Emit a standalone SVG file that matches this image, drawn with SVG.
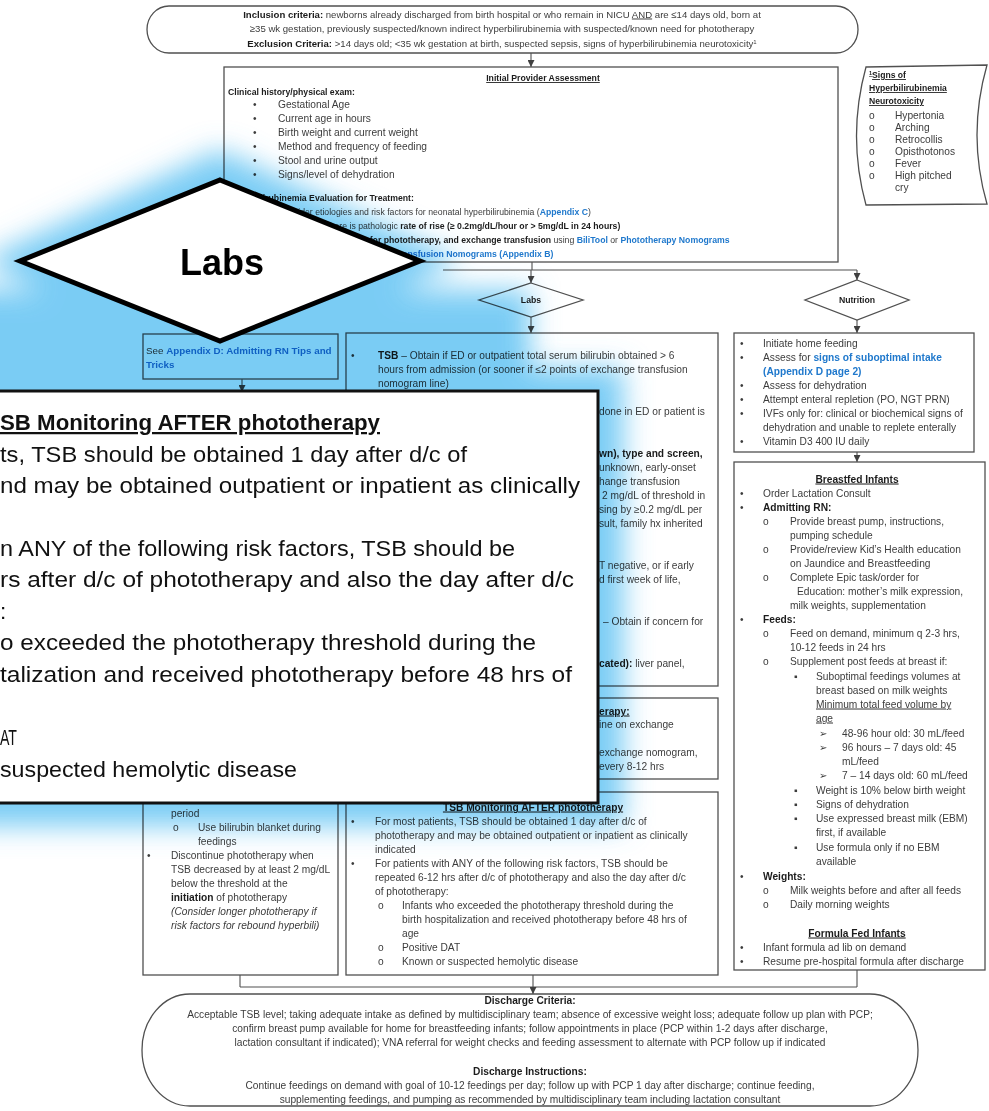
<svg xmlns="http://www.w3.org/2000/svg" width="989" height="1111" viewBox="0 0 989 1111">
<defs>
<style>
text{font-family:"Liberation Sans",Arial,sans-serif;font-size:10.2px;fill:#3c3c3c}
.s9{font-size:8.7px}
.s96{font-size:9.6px}
.s8{font-size:8.6px}
.r{font-size:10.4px}
.ad{font-size:9.8px}
.b{font-weight:bold;fill:#1c1c1c}
.lk{font-weight:bold;fill:#1f78cc}
.u{text-decoration:underline}
.i{font-style:italic}
.m{text-anchor:middle}
.box{fill:none;stroke:#505050;stroke-width:1.3}
.ln{fill:none;stroke:#505050;stroke-width:1.1}
.pop{font-size:22.5px;fill:#111}
.big{font-size:36px;font-weight:bold;fill:#000;text-anchor:middle}
</style>
<marker id="ah" viewBox="0 0 8 8" refX="8" refY="4" markerWidth="7" markerHeight="7" markerUnits="userSpaceOnUse" orient="auto"><path d="M0,0 L8,4 L0,8 z" fill="#404040"/></marker>
<filter id="blur" x="-20%" y="-20%" width="140%" height="140%"><feGaussianBlur stdDeviation="14"/></filter>
</defs>
<rect width="989" height="1111" fill="#fff"/>

<g id="connectors" class="ln">
<line x1="531" y1="53" x2="531" y2="67" marker-end="url(#ah)"/>
<line x1="532" y1="262" x2="532" y2="270"/>
<line x1="443" y1="270" x2="857" y2="270"/>
<line x1="531" y1="270" x2="531" y2="283" marker-end="url(#ah)"/>
<line x1="857" y1="270" x2="857" y2="280" marker-end="url(#ah)"/>
<line x1="531" y1="317" x2="531" y2="333" marker-end="url(#ah)"/>
<line x1="857" y1="320" x2="857" y2="333" marker-end="url(#ah)"/>
<line x1="857" y1="452" x2="857" y2="462" marker-end="url(#ah)"/>
<line x1="242" y1="379" x2="242" y2="392" marker-end="url(#ah)"/>
<line x1="240" y1="975" x2="240" y2="987"/>
<line x1="857" y1="970" x2="857" y2="987"/>
<line x1="240" y1="987" x2="857" y2="987"/>
<line x1="533" y1="975" x2="533" y2="994" marker-end="url(#ah)"/>
</g>

<g id="inclusion">
<path class="box" d="M169,6 H836 A22,23.5 0 0 1 836,53 H169 A22,23.5 0 0 1 169,6 Z"/>
<text class="s96 m" x="502" y="17.5"><tspan class="b">Inclusion criteria:</tspan> newborns already discharged from birth hospital or who remain in NICU <tspan class="u">AND</tspan> are ≤14 days old, born at</text>
<text class="s96 m" x="502" y="32">≥35 wk gestation, previously suspected/known indirect hyperbilirubinemia with suspected/known need for phototherapy</text>
<text class="s96 m" x="502" y="46.5"><tspan class="b">Exclusion Criteria:</tspan> &gt;14 days old; &lt;35 wk gestation at birth, suspected sepsis, signs of hyperbilirubinemia neurotoxicity<tspan font-size="6" dy="-3">1</tspan></text>
</g>

<g id="initial">
<rect class="box" x="224" y="67" width="614" height="195"/>
<text class="s9 b u m" x="543" y="81">Initial Provider Assessment</text>
<text class="s9 b" x="228" y="95">Clinical history/physical exam:</text>
<g class="s9">
<text x="253" y="108">•</text><text x="278" y="108">Gestational Age</text>
<text x="253" y="122">•</text><text x="278" y="122">Current age in hours</text>
<text x="253" y="136">•</text><text x="278" y="136">Birth weight and current weight</text>
<text x="253" y="150">•</text><text x="278" y="150">Method and frequency of feeding</text>
<text x="253" y="164">•</text><text x="278" y="164">Stool and urine output</text>
<text x="253" y="178">•</text><text x="278" y="178">Signs/level of dehydration</text>
</g>
<text class="s9 b" x="228" y="201">Hyperbilirubinemia Evaluation for Treatment:</text>
<text class="s9" x="278" y="215">Consider etiologies and risk factors for neonatal hyperbilirubinemia (<tspan class="lk">Appendix C</tspan>)</text>
<text class="s9" x="278" y="229">Determine if there is pathologic <tspan class="b">rate of rise (≥  0.2mg/dL/hour or &gt; 5mg/dL in 24 hours)</tspan></text>
<text class="s9" x="278" y="243"><tspan class="b">Determine thresholds for phototherapy, and exchange transfusion</tspan> using <tspan class="lk">BiliTool</tspan> or <tspan class="lk">Phototherapy Nomograms</tspan></text>
<text class="s9" x="278" y="257"><tspan class="lk">(Appendix A)</tspan> and <tspan class="lk">Exchange Transfusion Nomograms (Appendix B)</tspan></text>
</g>

<g id="signs">
<path class="box" d="M866,67 L987,65 Q967,135 987,204 L866,205 Q847,136 866,67 Z"/>
<text class="s8 b u" x="869" y="78"><tspan font-size="5.5" dy="-3">1</tspan><tspan dy="3">Signs of</tspan></text>
<text class="s8 b u" x="869" y="91">Hyperbilirubinemia</text>
<text class="s8 b u" x="869" y="104">Neurotoxicity</text>
<g class="s8">
<text x="869" y="119">o</text><text x="895" y="119">Hypertonia</text>
<text x="869" y="131">o</text><text x="895" y="131">Arching</text>
<text x="869" y="143">o</text><text x="895" y="143">Retrocollis</text>
<text x="869" y="155">o</text><text x="895" y="155">Opisthotonos</text>
<text x="869" y="167">o</text><text x="895" y="167">Fever</text>
<text x="869" y="179">o</text><text x="895" y="179">High pitched</text>
<text x="895" y="191">cry</text>
</g>
</g>

<g id="labs-decision">
<polygon class="box" points="531,283 583,300 531,317 479,300"/>
<text class="s9 b m" x="531" y="303">Labs</text>
</g>

<g id="nutrition-decision">
<polygon class="box" points="857,280 909,300 857,320 805,300"/>
<text class="s9 b m" x="857" y="303">Nutrition</text>
</g>

<g id="appendix-d">
<rect class="box" x="143" y="334" width="195" height="45"/>
<text class="ad" x="146" y="353.5">See <tspan class="lk">Appendix D: Admitting RN Tips and</tspan></text>
<text class="ad lk" x="146" y="367.5">Tricks</text>
</g>

<g id="labs-box">
<rect class="box" x="346" y="333" width="372" height="353"/>
<text x="351" y="358.5">•</text>
<text x="378" y="358.5"><tspan class="b">TSB</tspan> – Obtain if ED or outpatient total serum bilirubin obtained &gt; 6</text>
<text x="378" y="372.5">hours from admission (or sooner if ≤2 points of exchange transfusion</text>
<text x="378" y="386.5">nomogram line)</text>
<text x="599" y="414.5">done in ED or patient is</text>
<text x="599" y="456.5" class="b">wn), type and screen,</text>
<text x="599" y="470.5">unknown, early-onset</text>
<text x="599" y="484.5">hange transfusion</text>
<text x="602" y="498.5">2 mg/dL of threshold in</text>
<text x="599" y="512.5">sing by ≥0.2 mg/dL per</text>
<text x="599" y="526.5">sult, family hx inherited</text>
<text x="599" y="568.5">T negative, or if early</text>
<text x="599" y="582.5">d first week of life,</text>
<text x="603" y="624.5">– Obtain if concern for</text>
<text x="599" y="666.5"><tspan class="b">cated):</tspan> liver panel,</text>
</g>

<g id="photo-box">
<rect class="box" x="346" y="698" width="372" height="81"/>
<text x="599" y="714.5" class="b u">erapy:</text>
<text x="599" y="727.5">ine on exchange</text>
<text x="599" y="755.5">exchange nomogram,</text>
<text x="599" y="769.5">every 8-12 hrs</text>
</g>

<g id="tsb-after-box">
<rect class="box" x="346" y="792" width="372" height="183"/>
<text class="b u m" x="533" y="810.5">TSB Monitoring AFTER phototherapy</text>
<text x="351" y="824.5">•</text><text x="375" y="824.5">For most patients, TSB should be obtained 1 day after d/c of</text>
<text x="375" y="838.5">phototherapy and may be obtained outpatient or inpatient as clinically</text>
<text x="375" y="852.5">indicated</text>
<text x="351" y="866.5">•</text><text x="375" y="866.5">For patients with ANY of the following risk factors, TSB should be</text>
<text x="375" y="880.5">repeated 6-12 hrs after d/c of phototherapy and also the day after d/c</text>
<text x="375" y="894.5">of phototherapy:</text>
<text x="378" y="908.5">o</text><text x="402" y="908.5">Infants who exceeded the phototherapy threshold during the</text>
<text x="402" y="922.5">birth hospitalization and received phototherapy before 48 hrs of</text>
<text x="402" y="936.5">age</text>
<text x="378" y="950.5">o</text><text x="402" y="950.5">Positive DAT</text>
<text x="378" y="964.5">o</text><text x="402" y="964.5">Known or suspected hemolytic disease</text>
</g>

<g id="phototherapy-left">
<rect class="box" x="143" y="392" width="195" height="583"/>
<text x="171" y="816.5">period</text>
<text x="173" y="830.5">o</text><text x="198" y="830.5">Use bilirubin blanket during</text>
<text x="198" y="844.5">feedings</text>
<text x="147" y="858.5">•</text><text x="171" y="858.5">Discontinue phototherapy when</text>
<text x="171" y="872.5">TSB decreased by at least 2 mg/dL</text>
<text x="171" y="886.5">below the threshold at the</text>
<text x="171" y="900.5"><tspan class="b">initiation</tspan> of phototherapy</text>
<text x="171" y="914.5" class="i">(Consider longer phototherapy if</text>
<text x="171" y="928.5" class="i">risk factors for rebound hyperbili)</text>
</g>

<g id="nutrition-box">
<rect class="box" x="734" y="333" width="240" height="119"/>
<g class="r">
<text x="740" y="346.5">•</text><text x="763" y="346.5">Initiate home feeding</text>
<text x="740" y="360.5">•</text><text x="763" y="360.5">Assess for <tspan class="lk">signs of suboptimal intake</tspan></text>
<text x="763" y="374.5" class="lk">(Appendix D page 2)</text>
<text x="740" y="388.5">•</text><text x="763" y="388.5">Assess for dehydration</text>
<text x="740" y="402.5">•</text><text x="763" y="402.5">Attempt enteral repletion (PO, NGT PRN)</text>
<text x="740" y="416.5">•</text><text x="763" y="416.5">IVFs only for: clinical or biochemical signs of</text>
<text x="763" y="430.5">dehydration and unable to replete enterally</text>
<text x="740" y="444.5">•</text><text x="763" y="444.5">Vitamin D3 400 IU daily</text>
</g>
</g>

<g id="breastfed-box">
<rect class="box" x="734" y="462" width="251" height="508"/>
<g class="r">
<text x="857" y="482.5" class="b u m">Breastfed Infants</text>
<text x="740" y="496.5">•</text><text x="763" y="496.5">Order Lactation Consult</text>
<text x="740" y="510.5">•</text><text x="763" y="510.5" class="b">Admitting RN:</text>
<text x="763" y="524.5">o</text><text x="790" y="524.5">Provide breast pump, instructions,</text>
<text x="790" y="538.5">pumping schedule</text>
<text x="763" y="552.5">o</text><text x="790" y="552.5">Provide/review Kid’s Health education</text>
<text x="790" y="566.5">on Jaundice and Breastfeeding</text>
<text x="763" y="580.5">o</text><text x="790" y="580.5">Complete Epic task/order for</text>
<text x="797" y="594.5">Education: mother’s milk expression,</text>
<text x="790" y="608.5">milk weights, supplementation</text>
<text x="740" y="622.5">•</text><text x="763" y="622.5" class="b">Feeds:</text>
<text x="763" y="636.5">o</text><text x="790" y="636.5">Feed on demand, minimum q 2-3 hrs,</text>
<text x="790" y="650.5">10-12 feeds in 24 hrs</text>
<text x="763" y="664.5">o</text><text x="790" y="664.5">Supplement post feeds at breast if:</text>
<text x="794" y="679.5">▪</text><text x="816" y="679.5">Suboptimal feedings volumes at</text>
<text x="816" y="693.5">breast based on milk weights</text>
<text x="816" y="707.5" class="u">Minimum total feed volume by</text>
<text x="816" y="721.5" class="u">age</text>
<text x="819" y="736.5">➢</text><text x="842" y="736.5">48-96 hour old: 30 mL/feed</text>
<text x="819" y="750.5">➢</text><text x="842" y="750.5">96 hours – 7 days old: 45</text>
<text x="842" y="764.5">mL/feed</text>
<text x="819" y="778.5">➢</text><text x="842" y="778.5">7 – 14 days old: 60 mL/feed</text>
<text x="794" y="793.5">▪</text><text x="816" y="793.5">Weight is 10% below birth weight</text>
<text x="794" y="807.5">▪</text><text x="816" y="807.5">Signs of dehydration</text>
<text x="794" y="821.5">▪</text><text x="816" y="821.5">Use expressed breast milk (EBM)</text>
<text x="816" y="835.5">first, if available</text>
<text x="794" y="850.5">▪</text><text x="816" y="850.5">Use formula only if no EBM</text>
<text x="816" y="864.5">available</text>
<text x="740" y="879.5">•</text><text x="763" y="879.5" class="b">Weights:</text>
<text x="763" y="893.5">o</text><text x="790" y="893.5">Milk weights before and after all feeds</text>
<text x="763" y="907.5">o</text><text x="790" y="907.5">Daily morning weights</text>
<text x="857" y="936.5" class="b u m">Formula Fed Infants</text>
<text x="740" y="950.5">•</text><text x="763" y="950.5">Infant formula ad lib on demand</text>
<text x="740" y="964.5">•</text><text x="763" y="964.5">Resume pre-hospital formula after discharge</text>
</g>
</g>

<g id="discharge">
<path class="box" d="M190,994 H870 A48,56 0 0 1 870,1106 H190 A48,56 0 0 1 190,994 Z"/>
<text class="b m" x="530" y="1003.5">Discharge Criteria:</text>
<text class="m" x="530" y="1017.5">Acceptable TSB level; taking adequate intake as defined by multidisciplinary team; absence of excessive weight loss; adequate follow up plan with PCP;</text>
<text class="m" x="530" y="1031.5">confirm breast pump available for home for breastfeeding infants; follow appointments in place (PCP within 1-2 days after discharge,</text>
<text class="m" x="530" y="1046">lactation consultant if indicated); VNA referral for weight checks and feeding assessment to alternate with PCP follow up if indicated</text>
<text class="b m" x="530" y="1074.5">Discharge Instructions:</text>
<text class="m" x="530" y="1088.5">Continue feedings on demand with goal of 10-12 feedings per day; follow up with PCP 1 day after discharge; continue feeding,</text>
<text class="m" x="530" y="1102.5">supplementing feedings, and pumping as recommended by multidisciplinary team including lactation consultant</text>
</g>

<g id="glow" style="mix-blend-mode:multiply" opacity="0.85">
<g filter="url(#blur)" fill="#62c3f3">
<rect x="-40" y="368" width="663" height="458"/>
<polygon points="220,150 460,261 220,372 -20,261"/>
<rect x="-40" y="290" width="570" height="90"/>
</g>
</g>

<g id="zoom-popup">
<rect x="-5" y="391" width="603" height="412" fill="#fff" stroke="#111" stroke-width="3"/>
<text class="pop b u" x="0" y="430" textLength="380" lengthAdjust="spacingAndGlyphs">SB Monitoring AFTER phototherapy</text>
<text class="pop" x="0" y="462" textLength="467" lengthAdjust="spacingAndGlyphs">ts, TSB should be obtained 1 day after d/c of</text>
<text class="pop" x="0" y="493" textLength="580" lengthAdjust="spacingAndGlyphs">nd may be obtained outpatient or inpatient as clinically</text>
<text class="pop" x="0" y="556" textLength="515" lengthAdjust="spacingAndGlyphs">n ANY of the following risk factors, TSB should be</text>
<text class="pop" x="0" y="587" textLength="574" lengthAdjust="spacingAndGlyphs">rs after d/c of phototherapy and also the day after d/c</text>
<text class="pop" x="0" y="619">:</text>
<text class="pop" x="0" y="650" textLength="536" lengthAdjust="spacingAndGlyphs">o exceeded the phototherapy threshold during the</text>
<text class="pop" x="0" y="682" textLength="572" lengthAdjust="spacingAndGlyphs">talization and received phototherapy before 48 hrs of</text>
<text class="pop" x="0" y="745" textLength="17" lengthAdjust="spacingAndGlyphs">AT</text>
<text class="pop" x="0" y="777" textLength="297" lengthAdjust="spacingAndGlyphs">suspected hemolytic disease</text>
</g>

<g id="labs-zoom-diamond">
<polygon points="220,180 420,261 220,341 20,261" fill="#fff" stroke="#000" stroke-width="5" stroke-linejoin="miter"/>
<text class="big" x="222" y="275">Labs</text>
</g>
</svg>
